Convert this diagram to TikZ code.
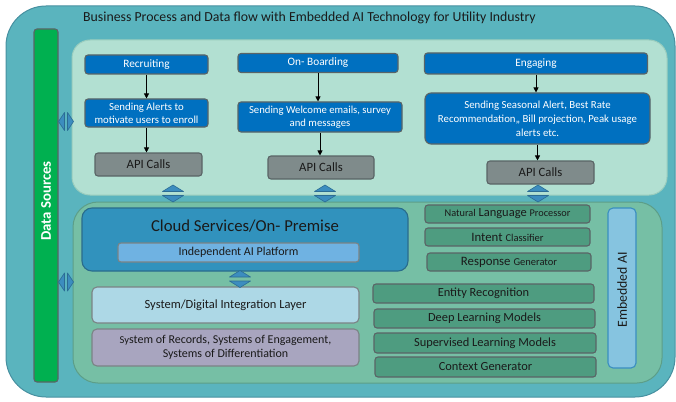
\documentclass[tikz,border=0pt]{standalone}
\usepackage{fontspec}
\setmainfont{Carlito}
\usetikzlibrary{arrows.meta}
\definecolor{outerfill}{HTML}{5AB4BE}
\definecolor{outerdraw}{HTML}{4790A0}
\definecolor{upfill}{HTML}{B2E0D2}
\definecolor{updraw}{HTML}{9ACDBE}
\definecolor{lowfill}{HTML}{76BFA5}
\definecolor{lowdraw}{HTML}{5C9E88}
\definecolor{dsgreen}{HTML}{00B050}
\definecolor{bluebox}{HTML}{0070C0}
\definecolor{graybox}{HTML}{7F8B8B}
\definecolor{cloudfill}{HTML}{3192BD}
\definecolor{clouddraw}{HTML}{2A6C8C}
\definecolor{indepfill}{HTML}{6FB2E2}
\definecolor{integfill}{HTML}{ADD8E6}
\definecolor{recfill}{HTML}{A8A5BF}
\definecolor{aifill}{HTML}{4E9C80}
\definecolor{embfill}{HTML}{86C4E0}
\definecolor{embdraw}{HTML}{3A8EC0}
\definecolor{arrfill}{HTML}{3C8DBF}
\definecolor{arrdraw}{HTML}{2B6C94}
\definecolor{boxedge}{HTML}{5A6466}
\definecolor{txtdark}{HTML}{1A1A1A}
\begin{document}
\begin{tikzpicture}[x=1pt,y=-1pt,
  every node/.style={inner sep=0pt, align=center},
  panel/.style={line width=1pt},
  procbox/.style={draw=boxedge, line width=1.1pt, fill=bluebox, rounded corners=3pt, text=white, font=\fontsize{11.3}{12}\selectfont},
  apibox/.style={draw=boxedge, line width=1.1pt, fill=graybox, rounded corners=3pt, text=txtdark, font=\fontsize{12.7}{13}\selectfont},
  aibox/.style={draw=boxedge, line width=1.1pt, fill=aifill, rounded corners=3pt, text=txtdark, font=\fontsize{12}{13}\selectfont},
  layerbox/.style={draw=boxedge!80, line width=1.1pt, rounded corners=5pt, text=txtdark, font=\fontsize{12.5}{13}\selectfont},
  flow/.style={-{Triangle[width=5pt,length=5pt]}, line width=0.8pt, black},
  arrstyle/.style={fill=arrfill, draw=arrdraw, line width=0.6pt, line join=round},
  udarr/.pic={\draw[arrstyle] (-10.5,-2) -- (0,-8.5) -- (10.5,-2) -- cycle;
              \draw[arrstyle] (-10.5,2) -- (0,8.5) -- (10.5,2) -- cycle;},
  lrarr/.pic={\draw[arrstyle] (-1.5,-9) -- (-7.5,0) -- (-1.5,9) -- cycle;
              \draw[arrstyle] (1.5,-9) -- (7.5,0) -- (1.5,9) -- cycle;}
]
\useasboundingbox (0,0) rectangle (676,401);
% outer frame
\node[panel, draw=outerdraw, fill=outerfill, rounded corners=40pt, minimum width=669pt, minimum height=391pt] (outer) at (340.5,201.5) {};
\node[text=txtdark, font=\fontsize{13.8}{15}\selectfont, anchor=center] (title) at (309.5,17.5) {Business Process and Data flow with Embedded AI Technology for Utility Industry};
% data sources bar
\node[draw=boxedge, line width=1.1pt, fill=dsgreen, rounded corners=3pt, minimum width=24pt, minimum height=353pt] (ds) at (46,205.5) {};
\node[rotate=90, text=white, font=\bfseries\fontsize{14.8}{16}\selectfont] (dslabel) at (46,201) {Data Sources};
% panels
\node[panel, draw=updraw, fill=upfill, rounded corners=18pt, minimum width=595pt, minimum height=155pt] (upper) at (369.5,117.5) {};
\node[panel, draw=lowdraw, fill=lowfill, rounded corners=25pt, minimum width=589pt, minimum height=181pt] (lower) at (367.5,292.5) {};
% upper boxes
\node[procbox, minimum width=123pt, minimum height=19pt] (recruit) at (146.5,64.5) {Recruiting};
\node[procbox, minimum width=123pt, minimum height=28pt, font=\fontsize{10.8}{13}\selectfont] (alerts) at (146.5,113) {Sending Alerts to\\motivate users to enroll};
\node[apibox, minimum width=107pt, minimum height=23pt] (api1) at (148.5,164.5) {API Calls};
\node[procbox, minimum width=160pt, minimum height=19pt] (onboard) at (318,63) {On- Boarding};
\node[procbox, minimum width=164pt, minimum height=30pt, font=\fontsize{10.7}{13.5}\selectfont] (welcome) at (320,117) {Sending Welcome emails, survey\\and messages};
\node[apibox, minimum width=106pt, minimum height=23pt] (api2) at (321,167.5) {API Calls};
\node[procbox, minimum width=223pt, minimum height=21pt] (engage) at (536,63.5) {Engaging};
\node[procbox, minimum width=225pt, minimum height=51pt, rounded corners=6pt, font=\fontsize{10.8}{14}\selectfont] (seasonal) at (537.5,118.5) {Sending Seasonal Alert, Best Rate\\Recommendation,, Bill projection, Peak usage\\alerts etc.};
\node[apibox, minimum width=107pt, minimum height=23pt] (api3) at (540.5,172.5) {API Calls};
% flow arrows
\draw[flow] (recruit.south) -- (recruit.south |- alerts.north);
\draw[flow] (alerts.south) -- (alerts.south |- api1.north);
\draw[flow] (onboard.south) -- (onboard.south |- welcome.north);
\draw[flow] (welcome.south) -- (welcome.south |- api2.north);
\draw[flow] (engage.south) -- (engage.south |- seasonal.north);
\draw[flow] (seasonal.south) -- (seasonal.south |- api3.north);
% lower boxes
\node[draw=clouddraw, line width=1.1pt, fill=cloudfill, rounded corners=10pt, minimum width=326pt, minimum height=63pt] (cloud) at (245,239.5) {};
\node[text=txtdark, font=\fontsize{16.7}{18}\selectfont] (cloudtitle) at (245,226.5) {Cloud Services/On- Premise};
\node[layerbox, fill=indepfill, rounded corners=3pt, minimum width=241pt, minimum height=19pt, font=\fontsize{12}{13}\selectfont] (indep) at (238.5,252.5) {Independent AI Platform};
\node[layerbox, fill=integfill, minimum width=267pt, minimum height=36pt] (integ) at (225.5,305) {System/Digital Integration Layer};
\node[layerbox, fill=recfill, minimum width=267pt, minimum height=37pt, font=\fontsize{12}{14.5}\selectfont] (records) at (225.5,347.5) {{\fontsize{10.5}{11}\selectfont Sy}stem of Records, Systems of Engagement,\\Systems of Differentiation};
\node[aibox, minimum width=165pt, minimum height=18pt, font=\fontsize{12.5}{13}\selectfont] (nlp) at (507.5,214) {{\fontsize{10.3}{11}\selectfont Natural} Language {\fontsize{10.3}{11}\selectfont Processor}};
\node[aibox, minimum width=165pt, minimum height=18pt, font=\fontsize{12.8}{13}\selectfont] (intent) at (507.5,237) {Intent {\fontsize{10.5}{11}\selectfont Classifier}};
\node[aibox, minimum width=164pt, minimum height=18pt, font=\fontsize{12.8}{13}\selectfont] (response) at (509,262) {Response {\fontsize{10.5}{11}\selectfont Generator}};
\node[aibox, minimum width=221pt, minimum height=19pt, font=\fontsize{12.4}{13}\selectfont] (entity) at (483.5,293.5) {Entity Recognition};
\node[aibox, minimum width=221pt, minimum height=19pt, font=\fontsize{12.4}{13}\selectfont] (deep) at (484.5,318.5) {Deep Learning Models};
\node[aibox, minimum width=222pt, minimum height=20pt, font=\fontsize{12.4}{13}\selectfont] (superv) at (485,343) {Supervised Learning Models};
\node[aibox, minimum width=221pt, minimum height=20pt, font=\fontsize{12.4}{13}\selectfont] (context) at (485.5,367) {Context Generator};
\node[draw=embdraw, line width=1.1pt, fill=embfill, rounded corners=5pt, minimum width=28pt, minimum height=160pt] (embed) at (622,288) {};
\node[rotate=90, text=txtdark, font=\fontsize{13.8}{15}\selectfont] (embedlabel) at (622,290) {Embedded AI};
% double arrows
\pic at (173,193.5) {udarr};
\pic at (325,193.5) {udarr};
\pic at (538,193.5) {udarr};
\pic at (240,279) {udarr};
\pic at (66,121.5) {lrarr};
\pic at (66,282) {lrarr};
\end{tikzpicture}
\end{document}
